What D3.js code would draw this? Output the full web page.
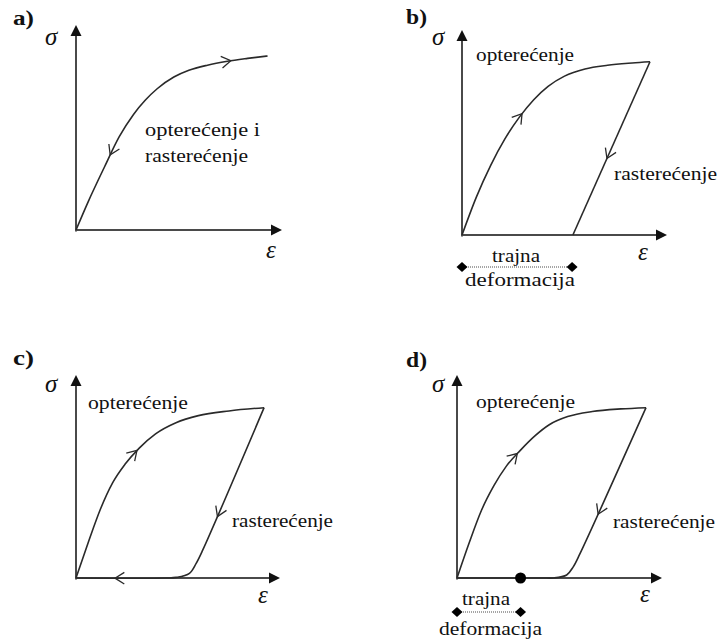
<!DOCTYPE html>
<html><head><meta charset="utf-8">
<script src="https://cdn.jsdelivr.net/npm/d3@7"></script>
<style>
body{margin:0;background:#fff}
text{font-family:"Liberation Serif","Times New Roman",serif;fill:#111}
</style></head>
<body><svg id="c" width="719" height="641"></svg>
<script>
// ---- data (strain ε, stress σ), normalised units ----
const panelLetters = ["a)", "b)", "c)", "d)"];
const axisNames = ["σ", "ε"];
const loadA = [[0,0],[0.06,0.14],[0.137,0.305],[0.21,0.455],[0.28,0.565],[0.337,0.634],[0.394,0.689],[0.475,0.746],[0.548,0.779],[0.638,0.804],[0.735,0.823],[0.833,0.837],[0.93,0.849]];
const loadB = [[0,0],[0.07,0.185],[0.14,0.34],[0.21,0.47],[0.28,0.575],[0.35,0.66],[0.42,0.725],[0.5,0.775],[0.6,0.81],[0.71,0.828],[0.83,0.839],[0.917,0.845]];
const unloadB = [[0.917,0.845],[0.541,0]];
const loadC = [[0,0],[0.06,0.175],[0.12,0.34],[0.18,0.47],[0.24,0.56],[0.31,0.64],[0.39,0.71],[0.49,0.765],[0.6,0.8],[0.75,0.823],[0.922,0.839]];
const unloadC = [[0.922,0.839],[0.621,0.137],[0.589,0.072],[0.556,0.023],[0.491,0.003],[0.442,0],[0,0]];
const loadD = [[0,0],[0.06,0.175],[0.12,0.335],[0.18,0.455],[0.24,0.55],[0.31,0.63],[0.38,0.7],[0.45,0.755],[0.54,0.795],[0.66,0.82],[0.8,0.833],[0.922,0.839]];
const unloadD = [[0.922,0.839],[0.6,0.12],[0.567,0.055],[0.535,0.015],[0.47,0],[0.437,0],[0,0]];
const permanentB = [0, 0.537];
const permanentD = [0, 0.31];
const residualDot = 0.31;
// direction arrows: [curve, strain at arrow, direction along curve]
const arrowsA = [["load",0.751,1],["load",0.166,-1]];
const arrowsB = [["load",0.293,1],["unload",0.707,1]];
const arrowsC = [["load",0.298,1],["unload",0.693,1],["unload",0.19,1]];
const arrowsD = [["load",0.294,1],["unload",0.688,1]];
const labelLoad = "opterećenje";
const labelUnload = "rasterećenje";
const labelBoth = ["opterećenje i", "rasterećenje"];
const labelPerm = ["trajna", "deformacija"];

// ---- layout ----
const svg = d3.select("#c");
svg.append("rect").attr("width",719).attr("height",641).attr("fill","#fff");

const panels = [
  {letter:panelLetters[0], lx:13, ly:25, ox:76, oy:230, xt:282, yt:25, load:loadA, unload:null, arrows:arrowsA,
   sig:[45,45], eps:[266,258],
   labels:[[labelBoth[0],145,136,115],[labelBoth[1],145,162,103]]},
  {letter:panelLetters[1], lx:406, ly:24, ox:462, oy:235, xt:667, yt:30, load:loadB, unload:unloadB, arrows:arrowsB, linearUnload:true,
   sig:[432,45], eps:[638,260],
   labels:[[labelLoad,476,61,98],[labelUnload,614,180,103]],
   perm:permanentB, permY:267, permLabels:[[labelPerm[0],492,262,48],[labelPerm[1],465,286,110]]},
  {letter:panelLetters[2], lx:13, ly:365, ox:76, oy:578, xt:280, yt:375, load:loadC, unload:unloadC, arrows:arrowsC,
   sig:[45,392], eps:[258,603],
   labels:[[labelLoad,88,409,100],[labelUnload,232,527,101]]},
  {letter:panelLetters[3], lx:406, ly:367, ox:457, oy:578, xt:662, yt:375, load:loadD, unload:unloadD, arrows:arrowsD,
   sig:[432,392], eps:[640,602],
   labels:[[labelLoad,476,408,99],[labelUnload,613,528,102]],
   perm:permanentD, permY:612, dot:residualDot, permLabels:[[labelPerm[0],462,605,48],[labelPerm[1],439,635,103]]}
];

const AX = "#4a4a4a", CV = "#2a2a2a";

function chevron(g, node, tx, dir, xs) {
  const L = node.getTotalLength();
  const target = xs(tx);
  let best = 0, bd = 1e9;
  for (let i = 0; i <= 600; i++) {
    const l = L * i / 600;
    const p = node.getPointAtLength(l);
    const d = Math.abs(p.x - target);
    if (d < bd) { bd = d; best = l; }
  }
  const p = node.getPointAtLength(best);
  const a = node.getPointAtLength(Math.max(0, best - 3));
  const b = node.getPointAtLength(Math.min(L, best + 3));
  let ux = (b.x - a.x) * dir, uy = (b.y - a.y) * dir;
  const n = Math.hypot(ux, uy); ux /= n; uy /= n;
  const len = 11, ang = 32 * Math.PI / 180;
  const pts = [-ang, ang].map(t => {
    const c = Math.cos(t), s = Math.sin(t);
    const rx = -(ux * c - uy * s), ry = -(ux * s + uy * c);
    return [p.x + rx * len, p.y + ry * len];
  });
  g.append("path")
    .attr("d", `M${pts[0][0]},${pts[0][1]}L${p.x},${p.y}L${pts[1][0]},${pts[1][1]}`)
    .attr("fill", "none").attr("stroke", CV).attr("stroke-width", 1.3);
}

panels.forEach(cfg => {
  const x = d3.scaleLinear().domain([0, 1]).range([cfg.ox, cfg.xt]);
  const y = d3.scaleLinear().domain([0, 1]).range([cfg.oy, cfg.yt]);
  const g = svg.append("g");

  // axes (d3 axes without ticks), ending at arrowhead base
  const xa = x.copy().range([cfg.ox - 1, cfg.xt - 9]);
  const ya = y.copy().range([cfg.oy + 1, cfg.yt + 9]);
  const gx = g.append("g").attr("transform", `translate(0,${cfg.oy})`)
    .call(d3.axisBottom(xa).tickValues([]).tickSizeOuter(0));
  const gy = g.append("g").attr("transform", `translate(${cfg.ox},0)`)
    .call(d3.axisLeft(ya).tickValues([]).tickSizeOuter(0));
  [gx, gy].forEach(a => a.select(".domain").attr("stroke", AX).attr("stroke-width", 2));
  gx.select(".domain").attr("transform", "translate(0,-0.5)");
  gy.select(".domain").attr("transform", "translate(-0.5,0)");
  // arrowheads
  const tx = x(1), ty = y(1);
  g.append("path").attr("d", `M${tx},${cfg.oy}L${tx-11},${cfg.oy-5.5}L${tx-11},${cfg.oy+5.5}Z`).attr("fill", "#111");
  g.append("path").attr("d", `M${cfg.ox},${ty}L${cfg.ox-5.5},${ty+11}L${cfg.ox+5.5},${ty+11}Z`).attr("fill", "#111");

  const smooth = d3.line().x(d => x(d[0])).y(d => y(d[1])).curve(d3.curveMonotoneX);
  const curve = d3.line().x(d => x(d[0])).y(d => y(d[1])).curve(d3.curveCatmullRom.alpha(0.5));
  const lin = d3.line().x(d => x(d[0])).y(d => y(d[1]));
  const paths = {};
  paths.load = g.append("path").datum(cfg.load).attr("d", smooth)
    .attr("fill", "none").attr("stroke", CV).attr("stroke-width", 1.6).node();
  if (cfg.unload) {
    paths.unload = g.append("path").datum(cfg.unload).attr("d", cfg.linearUnload ? lin : curve)
      .attr("fill", "none").attr("stroke", CV).attr("stroke-width", 1.6).node();
  }
  cfg.arrows.forEach(a => chevron(g, paths[a[0]], a[1], a[2], x));

  if (cfg.dot !== undefined) {
    g.append("circle").attr("cx", x(cfg.dot)).attr("cy", y(0)).attr("r", 5.5).attr("fill", "#000");
  }
  if (cfg.perm) {
    const x0 = x(cfg.perm[0]), x1 = x(cfg.perm[1]), py = cfg.permY;
    g.append("line").attr("x1", x0).attr("x2", x1).attr("y1", py).attr("y2", py)
      .attr("stroke", "#888").attr("stroke-width", 1.5).attr("stroke-dasharray", "1,1");
    cfg.perm.forEach(v => {
      const cx = x(v);
      g.append("path").attr("d", `M${cx-5.5},${py}L${cx},${py-5}L${cx+5.5},${py}L${cx},${py+5}Z`).attr("fill", "#000");
    });
    cfg.permLabels.forEach(l => g.append("text").attr("x", l[1]).attr("y", l[2])
      .attr("font-size", 19).attr("textLength", l[3]).attr("lengthAdjust", "spacingAndGlyphs").text(l[0]));
  }

  cfg.labels.forEach(l => g.append("text").attr("x", l[1]).attr("y", l[2])
    .attr("font-size", 19).attr("textLength", l[3]).attr("lengthAdjust", "spacingAndGlyphs").text(l[0]));

  g.append("text").attr("x", cfg.lx).attr("y", cfg.ly).attr("font-size", 20).attr("font-weight", "bold")
    .attr("textLength", 21).attr("lengthAdjust", "spacingAndGlyphs").text(cfg.letter);
  g.append("text").attr("x", cfg.sig[0]).attr("y", cfg.sig[1]).attr("font-size", 25).attr("font-style", "italic").text(axisNames[0]);
  g.append("text").attr("x", cfg.eps[0]).attr("y", cfg.eps[1]).attr("font-size", 25).attr("font-style", "italic").text(axisNames[1]);
});
</script></body></html>
